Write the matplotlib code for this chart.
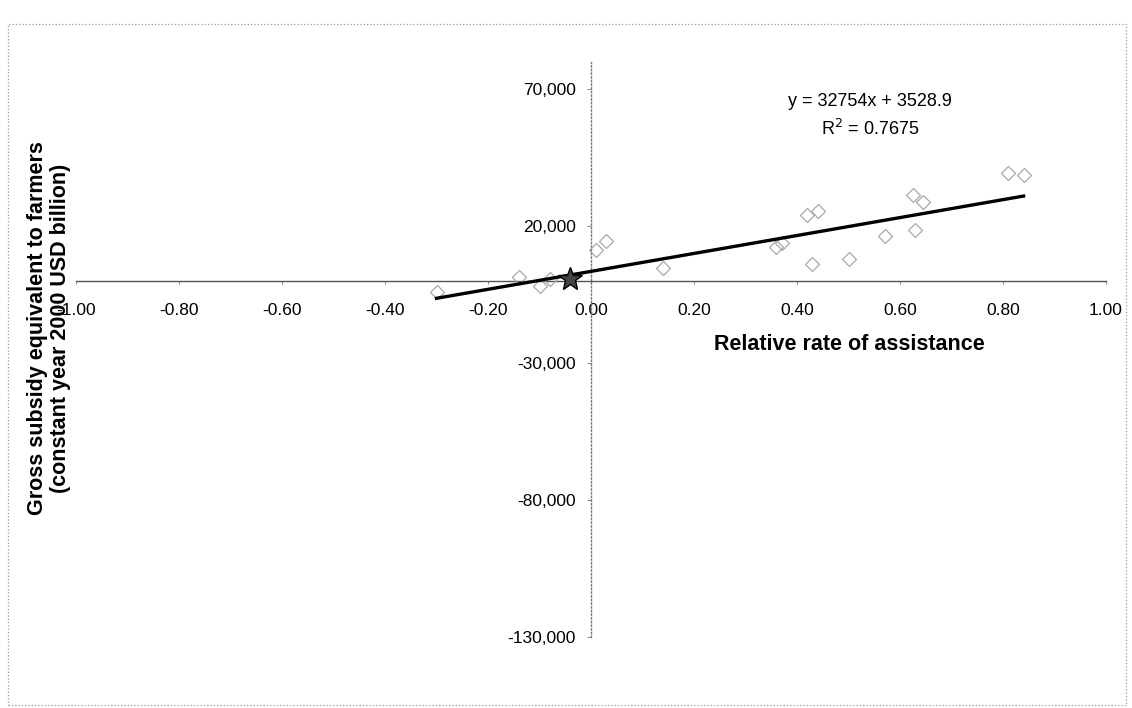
"""Relative rate of assistance vs gross subsidy equivalent to farmers."""

import matplotlib

matplotlib.use("Agg")
import matplotlib.pyplot as plt
import numpy as np
from matplotlib.patches import Rectangle

# data
RRA = [-0.30, -0.14, -0.10, -0.08, 0.01, 0.03, 0.14, 0.36, 0.37,
       0.42, 0.44, 0.43, 0.50, 0.57, 0.63, 0.625, 0.645, 0.81, 0.84]
GSE = [-4000, 1500, -1800, 700, 11500, 14500, 4700, 12500, 13800,
       24000, 25500, 6200, 8000, 16400, 18600, 31500, 29000, 39400, 38700]

STAR_RRA = [-0.04]
STAR_GSE = [700]

SLOPE = 32754
INTERCEPT = 3528.9
R2 = 0.7675

X_TICKS = [-1.0, -0.8, -0.6, -0.4, -0.2, 0.0, 0.2, 0.4, 0.6, 0.8, 1.0]
Y_TICKS = [-130000, -80000, -30000, 20000, 70000]

W, H = 1132, 708


def fx(px):
    return px / W


def fy(py):
    return 1 - py / H


plt.rcParams["font.family"] = ["Liberation Sans", "DejaVu Sans"]

fig = plt.figure(figsize=(W / 100, H / 100), dpi=100)
ax = fig.add_axes([fx(76), fy(637), fx(1106) - fx(76), fy(62) - fy(637)])

ax.set_xlim(-1.0, 1.0)
ax.set_ylim(-130000, 80000)

ax.spines["top"].set_visible(False)
ax.spines["right"].set_visible(False)
ax.spines["left"].set_position(("data", 0))
ax.spines["bottom"].set_position(("data", 0))
ax.spines["left"].set_color("#777777")
ax.spines["left"].set_linestyle(":")
ax.spines["left"].set_linewidth(1.0)
ax.spines["bottom"].set_color("#555555")
ax.spines["bottom"].set_linewidth(1.0)

ax.set_xticks(X_TICKS)
ax.set_xticklabels([f"{t:.2f}" for t in X_TICKS])
ax.set_yticks(Y_TICKS)
ax.set_yticklabels([f"{t:,.0f}" for t in Y_TICKS])
ax.tick_params(axis="x", direction="out", length=2, width=0.6, color="#777777",
               pad=14, labelsize=12.5)
ax.tick_params(axis="y", direction="out", length=3, width=0.6, color="#777777",
               pad=8, labelsize=12.5)

ax.plot(RRA, GSE, linestyle="none", marker="D", markersize=7,
        markerfacecolor="none", markeredgecolor="#a8a8a8", markeredgewidth=0.9,
        zorder=3)

xs = np.array([min(RRA), max(RRA)])
ax.plot(xs, SLOPE * xs + INTERCEPT, color="black", linewidth=2.4, zorder=4)

ax.plot(STAR_RRA, STAR_GSE, linestyle="none", marker="*", markersize=18,
        markerfacecolor="#444444", markeredgecolor="black", markeredgewidth=1.0,
        zorder=5)

fig.text(fx(870), fy(102), f"y = {SLOPE}x + {INTERCEPT}", ha="center",
         va="center", fontsize=13)
fig.text(fx(870), fy(129), f"R$^2$ = {R2}", ha="center", va="center",
         fontsize=13)

fig.text(fx(849), fy(345), "Relative rate of assistance", ha="center",
         va="center", fontsize=15.5, fontweight="bold")
fig.text(fx(49), fy(328),
         "Gross subsidy equivalent to farmers\n(constant year 2000 USD billion)",
         rotation=90, ha="center", va="center", fontsize=15.5,
         fontweight="bold", linespacing=1.1)

fig.patches.append(Rectangle((fx(8), fy(705)), fx(1126) - fx(8), fy(24) - fy(705),
                             transform=fig.transFigure, fill=False,
                             edgecolor="#999999", linestyle=":", linewidth=0.9))

fig.savefig("out.png", dpi=100)
